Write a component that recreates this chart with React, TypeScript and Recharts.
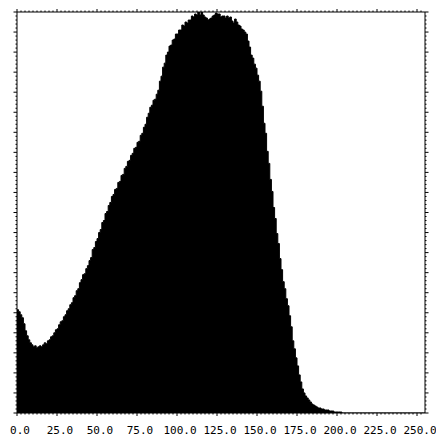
import React from 'react';
import { AreaChart, Area, XAxis, YAxis } from 'recharts';

// Grey-level histogram, one value per bin 0..255 (heights)
const COUNTS: number[] = [
    103, 101, 98, 95, 89, 82, 77, 73, 70, 68,
    66, 67, 65, 66, 67, 66, 68, 70, 69, 72,
    73, 76, 77, 80, 83, 84, 88, 91, 92, 96,
    98, 102, 104, 108, 110, 115, 117, 122, 124, 130,
    133, 138, 139, 144, 147, 152, 155, 163, 165, 171,
    174, 180, 183, 190, 192, 199, 201, 207, 210, 216,
    218, 223, 224, 230, 231, 237, 238, 244, 246, 251,
    252, 257, 259, 264, 265, 270, 271, 277, 279, 285,
    288, 295, 299, 305, 307, 312, 313, 318, 322, 331,
    336, 345, 349, 357, 360, 366, 367, 372, 373, 378,
    378, 382, 382, 387, 386, 390, 389, 392, 392, 396,
    395, 398, 397, 400, 397, 400, 397, 395, 394, 392,
    393, 394, 396, 397, 399, 398, 398, 395, 396, 396,
    394, 396, 394, 395, 391, 389, 393, 390, 387, 386,
    383, 382, 380, 378, 371, 365, 357, 354, 348, 344,
    337, 331, 321, 306, 289, 279, 261, 249, 233, 221,
    205, 194, 179, 169, 154, 143, 131, 124, 114, 107,
    97, 86, 72, 64, 55, 47, 38, 31, 24, 20,
    17, 15, 13, 11, 9, 8, 7, 6, 5, 5,
    4, 4, 3, 3, 3, 2, 2, 2, 1, 1,
    1, 1, 1, 0, 0, 0, 0, 0, 0, 0,
    0, 0, 0, 0, 0, 0, 0, 0, 0, 0,
    0, 0, 0, 0, 0, 0, 0, 0, 0, 0,
    0, 0, 0, 0, 0, 0, 0, 0, 0, 0,
    0, 0, 0, 0, 0, 0, 0, 0, 0, 0,
    0, 0, 0, 0, 0, 0
];

const X_TICKS = [0, 25, 50, 75, 100, 125, 150, 175, 200, 225, 250];
const X_LABELS = ['0.0', '25.0', '50.0', '75.0', '100.0', '125.0', '150.0', '175.0', '200.0', '225.0', '250.0'];

// minor tick positions (axis decoration only)
const X_MINOR = Array.from({ length: 102 }, (_, i) => i * 2.5);
const Y_MINOR = Array.from({ length: 101 }, (_, i) => i * 4);

const data = COUNTS.map((count, bin) => ({ bin, count }));

const FONT = '"DejaVu Sans Mono", monospace';

const BottomTick = (props: any) => {
    const { x, y, payload } = props;
    const idx = X_TICKS.indexOf(payload.value);
    const major = idx >= 0;
    return (
        <g>
            <line x1={x} x2={x} y1={y} y2={y + (major ? 3 : 1.5)} stroke="#000" />
            {major && (
                <text x={x + 3} y={y + 21} textAnchor="middle" fontSize={11} fontFamily={FONT} fill="#000">
                    {X_LABELS[idx]}
                </text>
            )}
        </g>
    );
};

const TopTick = (props: any) => {
    const { x, y, payload } = props;
    const major = payload.value % 25 === 0;
    return <line x1={x} x2={x} y1={y} y2={y - (major ? 3 : 1.5)} stroke="#000" />;
};

const LeftTick = (props: any) => {
    const { x, y, payload } = props;
    const major = payload.value % 20 === 0;
    return <line x1={x} x2={x - (major ? 3.5 : 1.5)} y1={y} y2={y} stroke="#000" />;
};

const RightTick = (props: any) => {
    const { x, y, payload } = props;
    const major = payload.value % 20 === 0;
    return <line x1={x} x2={x + (major ? 3.5 : 1.5)} y1={y} y2={y} stroke="#000" />;
};

export default function App() {
    return (
        <div style={{ position: 'absolute', left: 0, top: 0, background: '#fff' }}>
            <AreaChart
                width={436}
                height={437}
                data={data}
                margin={{ top: 0, right: 0, bottom: 0, left: 0 }}
            >
                <XAxis
                    xAxisId="bottom"
                    dataKey="bin"
                    type="number"
                    domain={[0, 255]}
                    ticks={X_MINOR}
                    interval={0}
                    height={24}
                    tickSize={0}
                    tickMargin={0}
                    tickLine={false}
                    tick={<BottomTick />}
                    axisLine={{ stroke: '#000' }}
                    allowDataOverflow
                />
                <XAxis
                    xAxisId="top"
                    orientation="top"
                    dataKey="bin"
                    type="number"
                    domain={[0, 255]}
                    ticks={X_MINOR}
                    interval={0}
                    height={12}
                    tickSize={0}
                    tickMargin={0}
                    tickLine={false}
                    tick={<TopTick />}
                    axisLine={{ stroke: '#000' }}
                    allowDataOverflow
                />
                <YAxis
                    yAxisId="left"
                    type="number"
                    domain={[0, 400]}
                    ticks={Y_MINOR}
                    interval={0}
                    width={17}
                    tickSize={0}
                    tickMargin={0}
                    tickLine={false}
                    tick={<LeftTick />}
                    axisLine={{ stroke: '#000' }}
                    allowDataOverflow
                />
                <YAxis
                    yAxisId="right"
                    orientation="right"
                    type="number"
                    domain={[0, 400]}
                    ticks={Y_MINOR}
                    interval={0}
                    width={11}
                    tickSize={0}
                    tickMargin={0}
                    tickLine={false}
                    tick={<RightTick />}
                    axisLine={{ stroke: '#000' }}
                    allowDataOverflow
                />
                <Area
                    xAxisId="bottom"
                    yAxisId="left"
                    type="stepAfter"
                    dataKey="count"
                    stroke="#000"
                    strokeWidth={1}
                    fill="#000"
                    fillOpacity={1}
                    dot={false}
                    activeDot={false}
                    isAnimationActive={false}
                />
                {/* keeps the top/right frame axes bound to the same data */}
                <Area
                    xAxisId="top"
                    yAxisId="right"
                    type="stepAfter"
                    dataKey="count"
                    stroke="none"
                    fill="none"
                    dot={false}
                    activeDot={false}
                    isAnimationActive={false}
                />
            </AreaChart>
        </div>
    );
}
